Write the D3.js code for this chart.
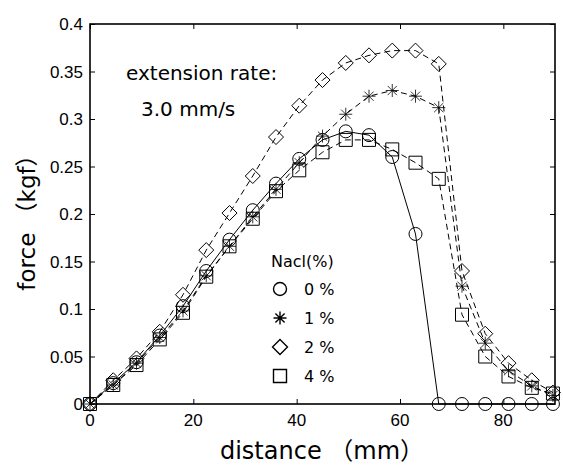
<!DOCTYPE html>
<html>
<head>
  <meta charset="UTF-8" />
  <title>force vs distance</title>
  <script src="https://d3js.org/d3.v7.min.js"></script>
  <style>
    body { margin: 0; background: #fff; }
    .tick-label { font-family: "Liberation Sans", Arial, sans-serif; font-size: 17px; fill: #000; }
    .gothic { font-family: "DejaVu Sans", "Noto Sans CJK JP", sans-serif; fill: #000; }
  </style>
</head>
<body>
<svg id="chart" width="563" height="466"></svg>

<script>
  // distance (mm)
  const distance = [0, 4.5, 9, 13.5, 18, 22.5, 27, 31.5, 36, 40.5, 45,
                    49.5, 54, 58.5, 63, 67.5, 72, 76.5, 81, 85.5, 89.6];
  // force (kgf) per NaCl concentration
  const nacl0 = [0, 0.022, 0.044, 0.072, 0.103, 0.140, 0.173, 0.204, 0.232, 0.258, 0.278,
                 0.287, 0.283, 0.260, 0.179, 0, 0, 0, 0, 0, 0];
  const nacl1 = [0, 0.020, 0.043, 0.070, 0.098, 0.135, 0.166, 0.197, 0.226, 0.254, 0.282,
                 0.305, 0.324, 0.330, 0.324, 0.312, 0.124, 0.064, 0.035, 0.019, 0.009];
  const nacl2 = [0, 0.025, 0.048, 0.076, 0.115, 0.162, 0.201, 0.240, 0.281, 0.314, 0.341,
                 0.359, 0.367, 0.372, 0.372, 0.358, 0.140, 0.074, 0.043, 0.025, 0.012];
  const nacl4 = [0, 0.020, 0.041, 0.068, 0.096, 0.134, 0.166, 0.195, 0.224, 0.246, 0.265,
                 0.278, 0.278, 0.268, 0.254, 0.237, 0.094, 0.050, 0.029, 0.017, 0.011];

  const xTicks = [0, 20, 40, 60, 80];
  const yTicks = [0, 0.05, 0.1, 0.15, 0.2, 0.25, 0.3, 0.35, 0.4];
  const legendLabels = ["0 %", "1 %", "2 %", "4 %"];

  const margin = { left: 90, top: 24, right: 8, bottom: 62 };
  const width = 563, height = 466;
  const svg = d3.select("#chart");

  const x = d3.scaleLinear().domain([0, 90]).range([margin.left, width - margin.right]);
  const y = d3.scaleLinear().domain([0, 0.4]).range([height - margin.bottom, margin.top]);

  // marker shapes
  const markers = {
    circle: "M6.5,0A6.5,6.5 0 1,1 -6.5,0A6.5,6.5 0 1,1 6.5,0Z",
    star: "M-6.5,0L6.5,0M0,-6.5L0,6.5M-4.6,-4.6L4.6,4.6M-4.6,4.6L4.6,-4.6",
    diamond: "M0,-7.5L7.5,0L0,7.5L-7.5,0Z",
    square: "M-6.5,-6.5L6.5,-6.5L6.5,6.5L-6.5,6.5Z"
  };

  const series = [
    { values: nacl0, marker: "circle", dash: null },
    { values: nacl1, marker: "star", dash: "6,4" },
    { values: nacl2, marker: "diamond", dash: "6,4" },
    { values: nacl4, marker: "square", dash: "6,4" }
  ];

  const line = d3.line().x(d => x(d[0])).y(d => y(d[1]));

  series.forEach(s => {
    const pts = distance.map((d, i) => [d, s.values[i]]);
    svg.append("path")
      .attr("d", line(pts))
      .attr("fill", "none")
      .attr("stroke", "#000")
      .attr("stroke-width", 1)
      .attr("stroke-dasharray", s.dash);
    svg.selectAll(null)
      .data(pts)
      .enter().append("path")
      .attr("transform", d => `translate(${x(d[0])},${y(d[1])})`)
      .attr("d", markers[s.marker])
      .attr("fill", "none")
      .attr("stroke", "#000")
      .attr("stroke-width", s.marker === "star" ? 0.8 : 1);
  });

  // axes: ticks point inward, mirrored on top and right
  const x0 = x.range()[0], x1 = x.range()[1];
  const y0 = y.range()[0], y1 = y.range()[1];

  svg.append("g").attr("transform", `translate(0,${y0})`)
    .call(d3.axisTop(x).tickValues(xTicks).tickSize(5).tickFormat(""));
  svg.append("g").attr("transform", `translate(0,${y1})`)
    .call(d3.axisBottom(x).tickValues(xTicks).tickSize(5).tickFormat(""));
  svg.append("g").attr("transform", `translate(${x0},0)`)
    .call(d3.axisRight(y).tickValues(yTicks).tickSize(5).tickFormat(""));
  svg.append("g").attr("transform", `translate(${x1},0)`)
    .call(d3.axisLeft(y).tickValues(yTicks).tickSize(5).tickFormat(""));
  svg.selectAll(".domain").remove();
  svg.selectAll(".tick line").attr("stroke", "#000").attr("stroke-width", 1);

  svg.append("rect")
    .attr("x", x0).attr("y", y1)
    .attr("width", x1 - x0).attr("height", y0 - y1)
    .attr("fill", "none").attr("stroke", "#000").attr("stroke-width", 1.6);

  // tick labels
  svg.selectAll(null).data(xTicks).enter().append("text")
    .attr("class", "tick-label")
    .attr("x", d => x(d)).attr("y", y0 + 22)
    .attr("text-anchor", "middle")
    .text(d => d);
  svg.selectAll(null).data(yTicks).enter().append("text")
    .attr("class", "tick-label")
    .attr("x", x0 - 7).attr("y", d => y(d) + 6)
    .attr("text-anchor", "end")
    .text(d => d);

  // axis titles
  svg.append("text").attr("class", "gothic")
    .attr("x", 322).attr("y", 459)
    .attr("text-anchor", "middle").style("font-size", "24px")
    .text("distance （mm）");
  svg.append("text").attr("class", "gothic")
    .attr("transform", "translate(35,217) rotate(-90)")
    .attr("text-anchor", "middle").style("font-size", "23px")
    .text("force （kgf）");

  // annotation
  svg.append("text").attr("class", "gothic")
    .attr("x", 126).attr("y", 80).style("font-size", "20px")
    .text("extension rate:");
  svg.append("text").attr("class", "gothic")
    .attr("x", 141).attr("y", 116).style("font-size", "20px")
    .text("3.0 mm/s");

  // legend
  const leg = svg.append("g").attr("transform", "translate(271,0)");
  leg.append("text").attr("class", "gothic")
    .attr("x", 0).attr("y", 267).style("font-size", "16px")
    .text("Nacl(%)");
  series.forEach((s, i) => {
    const cy = 289 + i * 29;
    leg.append("path")
      .attr("transform", `translate(9,${cy})`)
      .attr("d", markers[s.marker])
      .attr("fill", "none").attr("stroke", "#000").attr("stroke-width", 1.4);
    leg.append("text").attr("class", "gothic")
      .attr("x", 33).attr("y", cy + 6).style("font-size", "16px")
      .text(legendLabels[i]);
  });
</script>
</body>
</html>
